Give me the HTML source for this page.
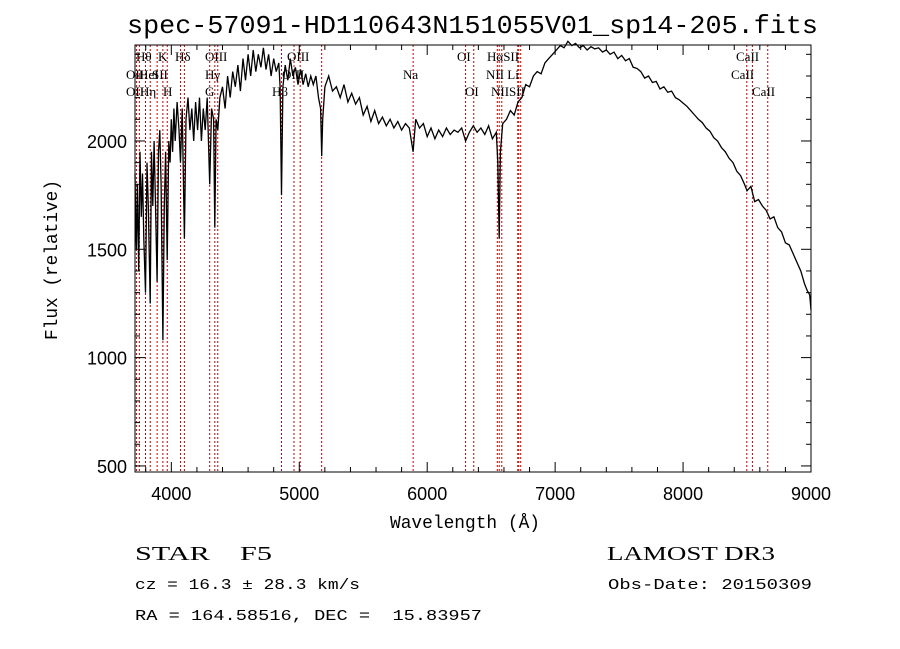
<!DOCTYPE html>
<html><head><meta charset="utf-8"><style>
body{margin:0;background:#fff;}
svg{display:block;font-family:"Liberation Mono",monospace;}
text{white-space:pre;}
</style></head><body>
<svg id="c" width="900" height="649" xmlns="http://www.w3.org/2000/svg" xml:space="preserve"></svg>
<script>
const wl=[3716,3722,3727,3735,3745,3755,3765,3775,3785,3798,3810,3820,3835,3845,3855,3865,3875,3889,3900,3910,3920,3934,3945,3955,3968,3980,3990,4000,4010,4020,4030,4045,4060,4072,4085,4102,4115,4130,4145,4160,4175,4190,4205,4220,4235,4250,4265,4280,4300,4315,4330,4340,4350,4363,4380,4400,4420,4440,4460,4480,4500,4520,4540,4560,4580,4600,4620,4640,4660,4680,4700,4720,4740,4760,4780,4800,4820,4840,4850,4861,4872,4890,4910,4930,4950,4970,4990,5010,5030,5050,5070,5090,5110,5130,5150,5167,5175,5183,5200,5230,5260,5290,5320,5350,5380,5410,5440,5470,5500,5530,5560,5590,5620,5650,5680,5710,5740,5770,5800,5830,5860,5890,5910,5940,5970,6000,6030,6060,6090,6120,6150,6180,6210,6240,6270,6300,6330,6360,6390,6420,6450,6480,6510,6540,6552,6563,6572,6590,6620,6650,6680,6710,6740,6770,6800,6830,6860,6890,6920,6950,6980,7010,7040,7070,7100,7130,7160,7190,7220,7250,7280,7310,7340,7370,7400,7430,7460,7490,7520,7550,7580,7610,7640,7670,7700,7730,7760,7790,7820,7850,7880,7910,7940,7970,8000,8030,8060,8090,8120,8150,8180,8210,8240,8270,8300,8330,8360,8390,8420,8450,8480,8500,8530,8560,8590,8620,8650,8680,8710,8740,8770,8800,8830,8860,8890,8920,8950,8970,8990,9000];
const flux=[1850,1600,1500,1800,1400,1950,1650,1850,1550,1300,1900,1700,1250,1950,1700,2000,1750,1350,1950,2050,1800,1080,1700,1950,1450,2000,1900,2100,1950,2150,2000,2180,2050,1900,2150,1550,2100,2200,2050,2150,2000,2180,2050,2200,2000,2150,2050,2200,1800,2150,2100,1600,2100,2050,2200,2250,2150,2300,2200,2320,2250,2350,2230,2380,2280,2400,2300,2420,2320,2400,2340,2430,2330,2400,2300,2380,2320,2360,2250,1750,2250,2350,2280,2380,2300,2340,2260,2330,2260,2310,2250,2300,2260,2300,2200,2150,1930,2100,2250,2300,2230,2250,2200,2260,2180,2220,2170,2200,2120,2160,2090,2140,2080,2110,2070,2100,2060,2090,2050,2080,2060,1950,2100,2060,2080,2020,2060,2010,2050,2020,2060,2030,2050,2040,2060,2000,2040,2070,2040,2060,2030,2070,2010,2040,1900,1550,1950,2080,2100,2140,2120,2180,2200,2260,2250,2300,2320,2310,2360,2380,2400,2420,2440,2430,2460,2440,2450,2430,2440,2420,2435,2425,2430,2410,2420,2400,2410,2380,2395,2370,2380,2340,2335,2320,2290,2300,2270,2275,2240,2250,2225,2230,2200,2190,2175,2160,2140,2120,2100,2085,2060,2045,2015,2000,1970,1950,1920,1900,1860,1840,1800,1770,1790,1720,1730,1700,1680,1640,1650,1600,1580,1530,1520,1480,1440,1400,1340,1310,1290,1220];
const lineWl=[3727,3750,3798,3835,3889,3934,3968,4072,4102,4300,4340,4363,4861,4959,5007,5175,5890,6300,6364,6548,6563,6583,6708,6716,6731,8498,8542,8662];
const xTicks=[4000,5000,6000,7000,8000,9000];
const yTicks=[500,1000,1500,2000];
const labels=[["Hθ",136,57],["K",158,57],["Hδ",175,57],["OIII",205,57],["OIII",287,57],["OI",457,57],["HαSII",487,57],["CaII",736,57],
["OII",126,75],["HeI",139,75],["SII",152,75],["Hγ",205,75],["OIII",282,75],["Na",403,75],["NII Li",486,75],["CaII",731,75],
["OII",126,92],["Hη",140,92],["H",163,92],["G",205,92],["Hβ",272,92],["OI",465,92],["NIISII",491,92],["CaII",752,92]];
const L=135,R=811,T=45,B=472,XMIN=3716,XMAX=9000,YMIN=472,YMAX=2443;
const X=w=>L+(w-XMIN)/(XMAX-XMIN)*(R-L);
const Y=f=>B-(f-YMIN)/(YMAX-YMIN)*(B-T);
const svg=document.getElementById('c');const NS="http://www.w3.org/2000/svg";
function mk(t,a,p){const e=document.createElementNS(NS,t);for(const k in a)e.setAttribute(k,a[k]);(p||svg).appendChild(e);return e;}
lineWl.forEach(w=>{const e=mk('line',{x1:X(w),x2:X(w),y1:T,y2:B,stroke:'#c00000','stroke-width':1,'stroke-dasharray':'2,2'});

});
let d='';wl.forEach((w,i)=>{d+=(i?'L':'M')+X(w).toFixed(1)+','+Y(flux[i]).toFixed(1);});
const sp=mk('path',{d:d,fill:'none',stroke:'#000','stroke-width':1.3});


const fr=mk('rect',{x:L,y:T,width:R-L,height:B-T,fill:'none',stroke:'#000','stroke-width':1});


for(let w=3800;w<=9000;w+=200){const maj=w%1000===0;const h=maj?10:5;
mk('line',{x1:X(w),x2:X(w),y1:B,y2:B-h,stroke:'#000'});mk('line',{x1:X(w),x2:X(w),y1:T,y2:T+h,stroke:'#000'});}
xTicks.forEach(w=>{const t=mk('text',{x:X(w),y:500,'text-anchor':'middle','font-family':'Liberation Sans, sans-serif','font-size':18});t.textContent=w;

});
for(let f=500;f<=2400;f+=100){const maj=f%500===0;const h=maj?10:5;
mk('line',{x1:L,x2:L+h,y1:Y(f),y2:Y(f),stroke:'#000'});mk('line',{x1:R,x2:R-h,y1:Y(f),y2:Y(f),stroke:'#000'});}
yTicks.forEach(f=>{const t=mk('text',{x:127,y:Y(f)+7,'text-anchor':'end','font-family':'Liberation Sans, sans-serif','font-size':18});t.textContent=f;

});
labels.forEach(l=>{const t=mk('text',{x:l[1],y:l[2]+4,'font-family':'Liberation Serif, serif','font-size':13});t.textContent=l[0];

});
function txt(s,x,y,fs,len,name,extra){const t=mk('text',Object.assign({x:x,y:y,'font-size':fs,textLength:len,lengthAdjust:'spacingAndGlyphs'},extra||{}));t.textContent=s;

return t;}
txt('spec-57091-HD110643N151055V01_sp14-205.fits',127,33,26,691,'chart-title');
txt('Wavelength (Å)',390,528,18,150,'x-axis-title');
txt('Flux (relative)',0,0,18,160,'y-axis-title',{transform:'translate(57,340) rotate(-90)'});
txt('STAR    F5',135,560,20,137,'object-class',{'font-family':'Liberation Serif, serif'});
txt('LAMOST DR3',607,560,20,168,'survey-name',{'font-family':'Liberation Serif, serif'});
txt('cz = 16.3 ± 28.3 km/s',135,589,15,225,'redshift-info');
txt('Obs-Date: 20150309',608,589,15,204,'obs-date');
txt('RA = 164.58516, DEC =  15.83957',135,620,15,347,'coordinates');
</script>
</body></html>
